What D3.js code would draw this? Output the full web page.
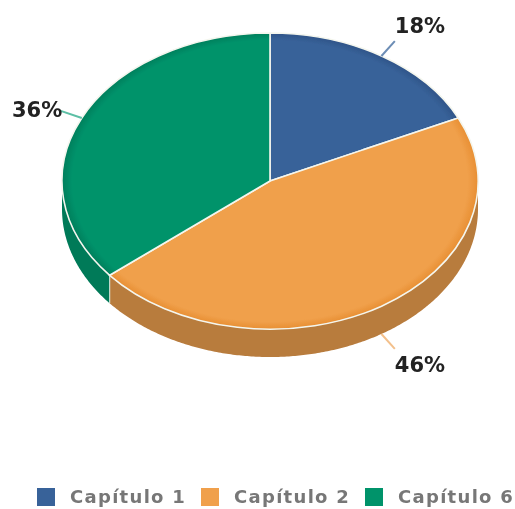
<!DOCTYPE html>
<html>
<head>
<meta charset="utf-8">
<script src="https://cdnjs.cloudflare.com/ajax/libs/d3/7.8.5/d3.min.js"></script>
<style>
  html, body { margin: 0; padding: 0; background: #fff; }
  svg { display: block; }
  text { font-family: "DejaVu Sans", sans-serif; }
</style>
</head>
<body>
<div id="chart"></div>
<script>
const categories = ["Capítulo 1", "Capítulo 2", "Capítulo 6"];
const values = [18, 46, 36];
const topColors = ["#386299", "#f0a04b", "#00936b"];
const edgeColors = ["#2f5488", "#e88f33", "#007f5c"];
const sideColors = ["#2c4d78", "#b87b3c", "#007a59"];
const leaderColors = ["#6c8db5", "#f3c08c", "#5cbfa5"];

const width = 515, height = 509;
const cx = 270, cy = 181, rx = 208, ry = 148, depth = 28;

const svg = d3.select("#chart").append("svg")
    .attr("width", width)
    .attr("height", height);

const defs = svg.append("defs");
defs.append("filter").attr("id", "soft")
    .append("feGaussianBlur").attr("stdDeviation", 0.7);

// darker rim on each slice
categories.forEach((c, i) => {
    const g = defs.append("radialGradient")
        .attr("id", "top" + i)
        .attr("gradientUnits", "userSpaceOnUse")
        .attr("cx", 0).attr("cy", 0).attr("r", 1);
    g.append("stop").attr("offset", "95%").attr("stop-color", topColors[i]);
    g.append("stop").attr("offset", "100%").attr("stop-color", edgeColors[i]);
});

const pie = d3.pie().sort(null).value(d => d);
const slices = pie(values);

const chart = svg.append("g").attr("filter", "url(#soft)");

// side wall, only the front half of the ellipse shows
const wall = d3.area()
    .x(a => cx + rx * Math.sin(a))
    .y0(a => cy - ry * Math.cos(a))
    .y1(a => cy - ry * Math.cos(a) + depth);

slices.forEach((s, i) => {
    const from = Math.max(s.startAngle, Math.PI / 2);
    const to = Math.min(s.endAngle, Math.PI * 3 / 2);
    if (to <= from) return;
    const angles = d3.range(from, to, 0.01).concat([to]);
    chart.append("path")
        .attr("d", wall(angles))
        .attr("fill", sideColors[i]);
});

// pale seam where the orange and green walls meet
const seam = slices[1].endAngle;
chart.append("line")
    .attr("x1", cx + rx * Math.sin(seam))
    .attr("x2", cx + rx * Math.sin(seam))
    .attr("y1", cy - ry * Math.cos(seam))
    .attr("y2", cy - ry * Math.cos(seam) + depth)
    .attr("stroke", "#e4eee4")
    .attr("stroke-width", 1);

// top face, drawn on a unit circle and squashed
const arc = d3.arc().innerRadius(0).outerRadius(1);

chart.append("g")
    .attr("transform", `translate(${cx},${cy}) scale(${rx},${ry})`)
    .selectAll("path")
    .data(slices)
    .join("path")
    .attr("d", arc)
    .attr("fill", (d, i) => `url(#top${i})`)
    .attr("stroke", "#f4f6ee")
    .attr("stroke-width", 1.6)
    .attr("vector-effect", "non-scaling-stroke");

// leader lines and percent labels
const leaderLength = 0.12;
slices.forEach((s, i) => {
    const mid = (s.startAngle + s.endAngle) / 2;
    const ux = Math.sin(mid), uy = -Math.cos(mid);
    const drop = uy > 0 ? depth : 0;
    const x1 = cx + rx * ux, y1 = cy + ry * uy + drop;
    const x2 = cx + rx * (1 + leaderLength) * ux, y2 = cy + ry * (1 + leaderLength) * uy + drop;

    chart.append("line")
        .attr("x1", x1).attr("y1", y1)
        .attr("x2", x2).attr("y2", y2)
        .attr("stroke", leaderColors[i])
        .attr("stroke-width", 2);

    const right = ux > 0;
    chart.append("text")
        .attr("x", right ? x2 : x2 + 3)
        .attr("y", uy > 0 ? y2 + 23 : (right ? y2 - 8 : y2 + 7))
        .attr("text-anchor", right ? "start" : "end")
        .attr("font-size", 21)
        .attr("font-weight", "bold")
        .attr("fill", "#222")
        .text(values[i] + "%");
});

// legend
const legendX = d3.scaleOrdinal().domain(categories).range([37, 201, 365]);
const legend = chart.append("g")
    .selectAll("g")
    .data(categories)
    .join("g")
    .attr("transform", d => `translate(${legendX(d)},488)`);

legend.append("rect")
    .attr("width", 18)
    .attr("height", 18)
    .attr("fill", (d, i) => topColors[i]);

legend.append("text")
    .attr("x", 33)
    .attr("y", 15)
    .attr("font-size", 18)
    .attr("font-weight", "bold")
    .attr("letter-spacing", 1.3)
    .attr("fill", "#777")
    .text(d => d);
</script>
</body>
</html>
